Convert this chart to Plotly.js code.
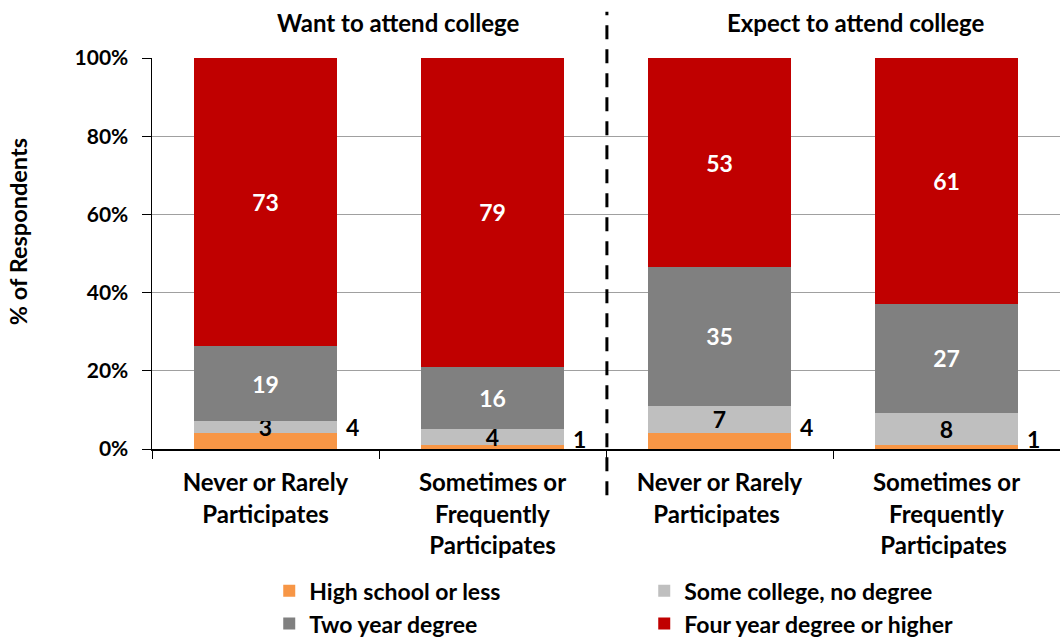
<!DOCTYPE html>
<html>
<head>
<meta charset="utf-8">
<script src="https://cdn.plot.ly/plotly-3.0.1.min.js"></script>
<style>html,body{margin:0;padding:0;background:#fff;}#chart{width:1060px;height:641px;}</style>
</head>
<body>
<div id="chart"></div>
<script>
const categories = ["Never or Rarely<br>Participates", "Sometimes or<br>Frequently<br>Participates", "Never or Rarely<br>Participates ", "Sometimes or<br>Frequently<br>Participates "];
const highSchool = [4, 1, 4, 1];
const someCollege = [3, 4, 7, 8];
const twoYear = [19, 16, 35, 27];
const fourYear = [73, 79, 53, 61];
const seriesNames = ["High school or less", "Some college, no degree", "Two year degree", "Four year degree or higher"];
const seriesColors = ["#F79646", "#BFBFBF", "#808080", "#C00000"];
const groupTitles = ["Want to attend college", "Expect to attend college"];

const FONT = "Lato, 'Liberation Sans', sans-serif";
const bold = (size, c) => ({family: FONT, size: size, color: c, weight: 700});

function barTrace(vals, i, showText, txtColor) {
  return {
    type: "bar", x: categories, y: vals, name: seriesNames[i],
    marker: {color: seriesColors[i], line: {width: 0}},
    text: showText ? vals.map(String) : undefined,
    textposition: showText ? "inside" : "none",
    insidetextanchor: "middle",
    textangle: 0,
    constraintext: "none",
    insidetextfont: bold(23, txtColor),
    hoverinfo: "skip"
  };
}

const traces = [
  barTrace(highSchool, 0, false, "#000"),
  barTrace(someCollege, 1, true, "#000"),
  barTrace(twoYear, 2, true, "#fff"),
  barTrace(fourYear, 3, true, "#fff")
];

const annotations = [];
categories.forEach((c, k) => {
  const total = highSchool[k] + someCollege[k] + twoYear[k] + fourYear[k];
  annotations.push({
    x: c, y: highSchool[k] / total * 100, xref: "x", yref: "y",
    text: String(highSchool[k]), showarrow: false,
    xshift: 87, yshift: 6, xanchor: "center", yanchor: "middle",
    font: bold(23, "#000")
  });
});
annotations.push({x: 0.271, y: 1.092, xref: "paper", yref: "paper", xanchor: "center", yanchor: "middle", text: groupTitles[0], showarrow: false, font: bold(24, "#000")});
annotations.push({x: 0.775, y: 1.092, xref: "paper", yref: "paper", xanchor: "center", yanchor: "middle", text: groupTitles[1], showarrow: false, font: bold(24, "#000")});
annotations.push({x: -0.1476, y: 0.557, xref: "paper", yref: "paper", xanchor: "center", yanchor: "middle", text: "% of Respondents", textangle: -90, showarrow: false, font: bold(23.5, "#000")});

const layout = {
  width: 1060, height: 641,
  margin: {l: 152, r: 0, t: 58, b: 192, autoexpand: false},
  barmode: "stack", barnorm: "percent", bargap: 0.373,
  paper_bgcolor: "#fff", plot_bgcolor: "#fff",
  showlegend: true,
  legend: {orientation: "h", x: 0.254, y: 0.112, xref: "container", yref: "container", xanchor: "left", yanchor: "top",
    traceorder: "normal", entrywidth: 330, entrywidthmode: "pixels",
    font: bold(23, "#000"), itemclick: false},
  xaxis: {type: "category", showline: true, linecolor: "#000", linewidth: 1.5,
    ticks: "outside", tickson: "boundaries", ticklen: 8, tickcolor: "#000", ticklabelstandoff: 12,
    tickfont: bold(24, "#000"), showgrid: false, automargin: false},
  yaxis: {range: [0, 100], dtick: 20, ticksuffix: "%", showline: true, linecolor: "#000", linewidth: 1.5,
    ticks: "outside", ticklen: 9, tickcolor: "#000", gridcolor: "#A0A0A0", gridwidth: 1, ticklabelstandoff: 9,
    zeroline: false, tickfont: bold(21, "#000"), automargin: false},
  shapes: [{type: "line", xref: "paper", yref: "paper", x0: 0.501, x1: 0.501, y0: -0.118, y1: 1.118,
    line: {color: "#000", width: 3, dash: "14px,10px"}}],
  annotations: annotations,
  font: {family: FONT}
};

Plotly.newPlot("chart", traces, layout, {displayModeBar: false, staticPlot: true});
</script>
</body>
</html>
